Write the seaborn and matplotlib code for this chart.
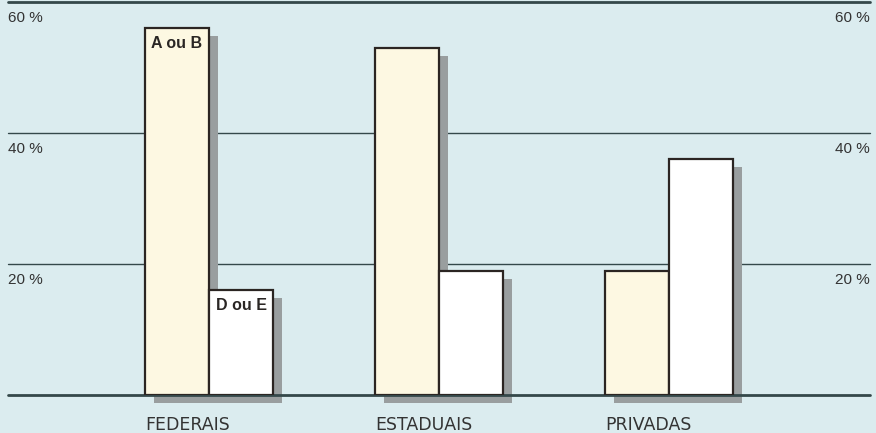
import matplotlib
matplotlib.use("Agg")
import matplotlib.pyplot as plt
import matplotlib.transforms as mtransforms
from matplotlib.patches import Rectangle
import seaborn as sns
import pandas as pd

# ---- data ----
categories = ["FEDERAIS", "ESTADUAIS", "PRIVADAS"]
groups = ["A ou B", "D ou E"]
values_ab = [56, 53, 19]
values_de = [16, 19, 36]
y_ticks = [20, 40, 60]

df = pd.DataFrame({
    "cat": categories * 2,
    "grp": [groups[0]] * 3 + [groups[1]] * 3,
    "val": values_ab + values_de,
})

bg = "#dbecef"
cream = "#fdf8e2"
white = "#ffffff"
edge = "#2b2522"
shadow = "#999e9f"
grid_c = "#34484a"
text_c = "#333333"

sns.set_theme(style="white")
plt.rcParams["font.family"] = ["Liberation Sans", "DejaVu Sans"]

fig = plt.figure(figsize=(8.76, 4.33), dpi=100)
fig.patch.set_facecolor(bg)
ax = fig.add_axes([0, 38 / 433, 1, 393 / 433])
ax.set_facecolor(bg)

sns.barplot(data=df, x="cat", y="val", hue="grp", order=categories,
            hue_order=groups, palette=[cream, white], width=0.557,
            edgecolor=edge, linewidth=1.6, saturation=1, legend=False,
            ax=ax, zorder=3)

ax.set_xlim(-0.909, 2.9)
ax.set_ylim(0, 60)

# gridlines
x0, x1 = 8 / 876, 870 / 876
for v in y_ticks:
    lw = 2.0 if v == 60 else 1.0
    ax.axhline(v, xmin=x0, xmax=x1, color=grid_c, lw=lw, zorder=0.5, clip_on=False)
ax.axhline(0, xmin=x0, xmax=x1, color=grid_c, lw=2.0, zorder=2, clip_on=False)

# shadows
shadow_tr = ax.transData + mtransforms.ScaledTranslation(9 / 100, -8 / 100, fig.dpi_scale_trans)
for cont in ax.containers:
    for bar in cont:
        r = Rectangle(bar.get_xy(), bar.get_width(), bar.get_height(),
                      facecolor=shadow, edgecolor="none", transform=shadow_tr,
                      zorder=1, clip_on=False)
        ax.add_patch(r)

# labels inside first group's bars
for cont, lab in zip(ax.containers, groups):
    bar = cont[0]
    tr = mtransforms.offset_copy(ax.transData, fig=fig, y=-8, units="dots")
    ax.text(bar.get_x() + bar.get_width() / 2, bar.get_height(), lab,
            transform=tr, ha="center", va="top", fontsize=11.5,
            fontweight="bold", color="#2a2624", zorder=5)

# y labels (both sides)
blend = mtransforms.blended_transform_factory(ax.transAxes, ax.transData)
for v in y_ticks:
    trl = mtransforms.offset_copy(blend, fig=fig, y=-9, units="dots")
    ax.text(8 / 876, v, f"{v} %", transform=trl, ha="left", va="top",
            fontsize=11, color=text_c)
    ax.text(870 / 876, v, f"{v} %", transform=trl, ha="right", va="top",
            fontsize=11, color=text_c)

# category labels, left-aligned to group
ax.set_xticks([b.get_x() for b in ax.containers[0]])
ax.set_xticklabels(categories, ha="left", fontsize=12.5, color=text_c,
                   family=["DejaVu Sans"])
ax.tick_params(axis="x", length=0, pad=15)
ax.set_yticks([])
ax.set_xlabel("")
ax.set_ylabel("")
for s in ax.spines.values():
    s.set_visible(False)

fig.savefig("out.png", dpi=100, facecolor=bg)
